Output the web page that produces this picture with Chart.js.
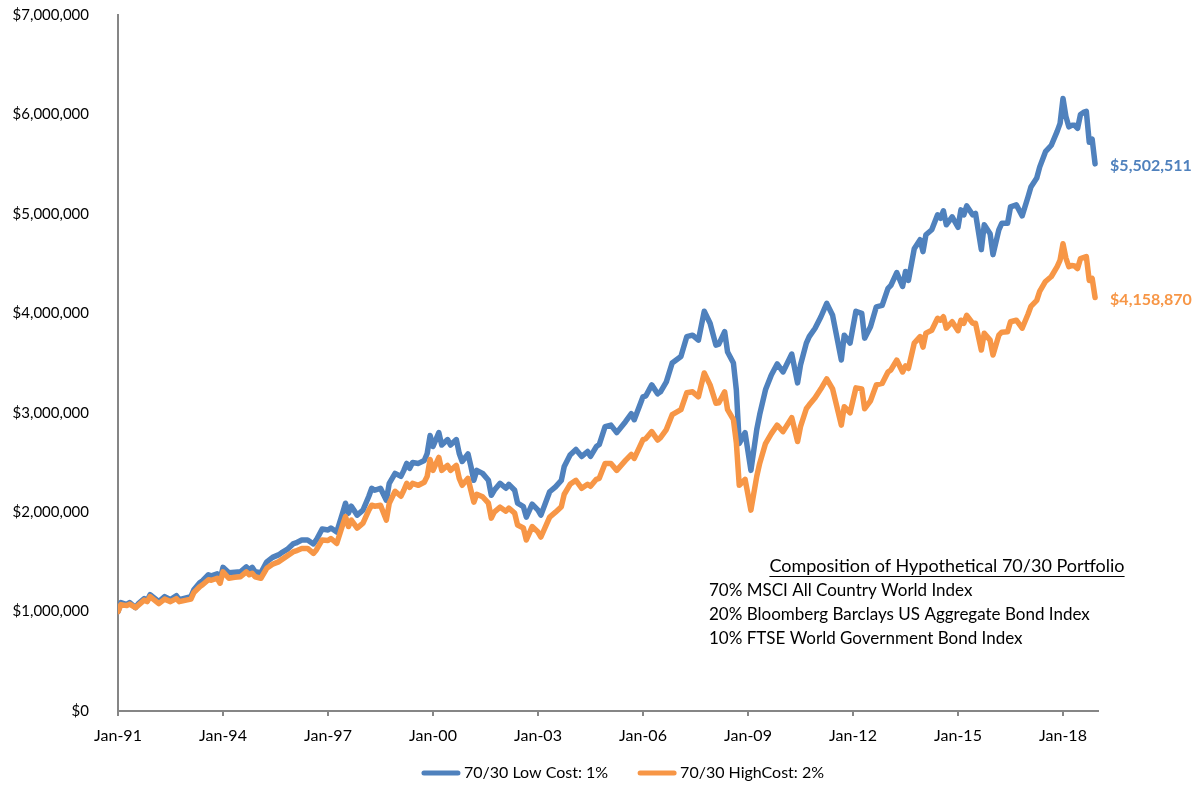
<!DOCTYPE html>
<html>
<head>
<meta charset="utf-8">
<script src="https://cdn.jsdelivr.net/npm/chart.js@4"></script>
<style>
  body { margin: 0; background: #fff; }
</style>
</head>
<body>
<canvas id="growthChart" width="1196" height="789"></canvas>
<script>
// month index since Jan-91 (0 = Jan-91)
const months = [
  0, 1, 3, 4, 6, 7, 9, 10, 11, 14,
  16, 18, 20, 21, 25, 26, 28, 29, 31, 32,
  34, 35, 36, 38, 40, 42, 44, 45, 46, 47,
  49, 51, 53, 55, 56, 58, 60, 61, 63, 65,
  67, 68, 70, 72, 73, 75, 77, 78, 79, 80,
  82, 84, 86, 87, 88, 90, 92, 93, 95, 97,
  98, 99, 100, 101, 103, 105, 106, 107, 108, 110,
  111, 113, 114, 116, 117, 118, 120, 121, 122, 123,
  125, 127, 128, 129, 131, 133, 134, 136, 137, 139,
  140, 142, 144, 145, 148, 150, 152, 153, 155, 157,
  159, 161, 162, 164, 165, 167, 169, 171, 174, 176,
  177, 180, 181, 183, 185, 186, 188, 190, 193, 195,
  197, 199, 201, 203, 205, 206, 208, 209, 211, 212,
  213, 215, 217, 219, 220, 222, 224, 226, 228, 231,
  233, 234, 236, 237, 239, 241, 243, 245, 248, 249,
  251, 253, 255, 256, 258, 260, 262, 264, 265, 267,
  269, 270, 271, 273, 275, 276, 277, 279, 281, 282,
  283, 284, 286, 288, 289, 290, 291, 293, 294, 296,
  297, 299, 300, 302, 303, 305, 306, 308, 310, 312,
  313, 315, 316, 318, 320, 322, 323, 324, 325, 326,
  327, 328, 329, 330, 331, 332, 333, 334, 335
];

// portfolio value, $ millions
const lowCost = [
  1.00, 1.09, 1.07, 1.09, 1.04, 1.08, 1.13, 1.11, 1.17, 1.10,
  1.15, 1.12, 1.16, 1.12, 1.15, 1.22, 1.29, 1.31, 1.37, 1.36,
  1.38, 1.32, 1.445, 1.39, 1.395, 1.40, 1.45, 1.42, 1.445, 1.40,
  1.39, 1.50, 1.545, 1.57, 1.59, 1.625, 1.68, 1.69, 1.72, 1.72,
  1.68, 1.72, 1.83, 1.82, 1.84, 1.80, 1.99, 2.09, 1.99, 2.06,
  1.97, 2.02, 2.16, 2.24, 2.22, 2.24, 2.12, 2.29, 2.39, 2.36,
  2.42, 2.49, 2.44, 2.50, 2.49, 2.52, 2.59, 2.77, 2.66, 2.80,
  2.675, 2.73, 2.675, 2.73, 2.59, 2.51, 2.585, 2.46, 2.32, 2.42,
  2.39, 2.32, 2.17, 2.22, 2.29, 2.24, 2.28, 2.22, 2.09, 2.055,
  1.95, 2.08, 2.02, 1.97, 2.205, 2.255, 2.32, 2.46, 2.575, 2.63,
  2.56, 2.61, 2.56, 2.66, 2.68, 2.86, 2.875, 2.80, 2.91, 2.99,
  2.93, 3.16, 3.17, 3.28, 3.19, 3.21, 3.31, 3.50, 3.565, 3.765,
  3.78, 3.73, 4.02, 3.90, 3.68, 3.69, 3.815, 3.61, 3.50, 3.23,
  2.69, 2.80, 2.42, 2.83, 2.98, 3.23, 3.38, 3.49, 3.41, 3.59,
  3.30, 3.48, 3.70, 3.765, 3.85, 3.965, 4.10, 3.98, 3.53, 3.78,
  3.70, 4.02, 4.00, 3.75, 3.865, 4.065, 4.08, 4.25, 4.28, 4.41,
  4.27, 4.42, 4.33, 4.65, 4.74, 4.62, 4.79, 4.84, 4.99, 4.955,
  5.03, 4.89, 4.97, 4.865, 5.04, 4.99, 5.08, 4.99, 5.005, 4.64,
  4.89, 4.80, 4.59, 4.84, 4.905, 4.905, 5.07, 5.09, 4.98, 5.17,
  5.27, 5.36, 5.47, 5.625, 5.69, 5.83, 5.91, 6.16, 5.98, 5.875,
  5.89, 5.89, 5.86, 6.00, 6.02, 6.03, 5.72, 5.75, 5.502511
];

const highCost = [
  1.00, 1.07, 1.06, 1.075, 1.04, 1.065, 1.115, 1.10, 1.15, 1.08,
  1.125, 1.10, 1.13, 1.10, 1.125, 1.19, 1.25, 1.27, 1.32, 1.315,
  1.335, 1.285, 1.40, 1.335, 1.345, 1.35, 1.40, 1.37, 1.385, 1.35,
  1.335, 1.435, 1.475, 1.50, 1.52, 1.56, 1.60, 1.61, 1.635, 1.635,
  1.585, 1.62, 1.72, 1.715, 1.735, 1.685, 1.87, 1.955, 1.855, 1.92,
  1.84, 1.89, 2.02, 2.07, 2.06, 2.07, 1.92, 2.09, 2.21, 2.16,
  2.22, 2.29, 2.25, 2.29, 2.27, 2.30, 2.36, 2.53, 2.42, 2.55,
  2.42, 2.47, 2.42, 2.47, 2.34, 2.27, 2.34, 2.22, 2.10, 2.18,
  2.155, 2.09, 1.94, 2.00, 2.05, 2.01, 2.04, 1.99, 1.87, 1.84,
  1.72, 1.855, 1.80, 1.75, 1.95, 2.00, 2.055, 2.18, 2.28, 2.32,
  2.24, 2.28, 2.26, 2.33, 2.34, 2.49, 2.49, 2.42, 2.52, 2.58,
  2.54, 2.73, 2.74, 2.81, 2.725, 2.75, 2.83, 2.98, 3.03, 3.20,
  3.21, 3.16, 3.40, 3.28, 3.095, 3.10, 3.21, 3.03, 2.93, 2.70,
  2.27, 2.33, 2.02, 2.36, 2.49, 2.69, 2.79, 2.875, 2.81, 2.95,
  2.71, 2.86, 3.04, 3.08, 3.15, 3.24, 3.34, 3.24, 2.875, 3.06,
  3.00, 3.25, 3.24, 3.04, 3.12, 3.28, 3.295, 3.41, 3.43, 3.53,
  3.41, 3.47, 3.445, 3.70, 3.765, 3.66, 3.80, 3.83, 3.95, 3.93,
  3.965, 3.85, 3.915, 3.825, 3.93, 3.90, 3.98, 3.90, 3.90, 3.63,
  3.80, 3.73, 3.58, 3.78, 3.81, 3.815, 3.915, 3.93, 3.85, 3.99,
  4.07, 4.13, 4.22, 4.32, 4.37, 4.47, 4.535, 4.70, 4.555, 4.47,
  4.48, 4.475, 4.45, 4.55, 4.56, 4.57, 4.33, 4.35, 4.15887
];

const seriesNames = ['70/30 Low Cost: 1%', '70/30 HighCost: 2%'];
const tickMonths = [0, 36, 72, 108, 144, 180, 216, 252, 288, 324];
const tickLabels = ['Jan-91', 'Jan-94', 'Jan-97', 'Jan-00', 'Jan-03', 'Jan-06', 'Jan-09', 'Jan-12', 'Jan-15', 'Jan-18'];
const boxTitle = 'Composition of Hypothetical 70/30 Portfolio';
const boxLines = [
  '70% MSCI All Country World Index',
  '20% Bloomberg Barclays US Aggregate Bond Index',
  '10% FTSE World Government Bond Index'
];

const BLUE = '#4F81BD';
const ORANGE = '#F79646';
const FONT = 'Lato, "Open Sans", sans-serif';

function formatDollars(v) {
  return '$' + Math.round(v).toLocaleString('en-US');
}

function toPoints(values) {
  return months.map((m, i) => ({ x: m, y: values[i] * 1000000 }));
}

// end-of-line values, composition note and legend
const overlayPlugin = {
  id: 'overlay',
  afterDraw(chart) {
    const ctx = chart.ctx;
    ctx.save();

    chart.data.datasets.forEach((ds, i) => {
      const meta = chart.getDatasetMeta(i);
      const last = meta.data[meta.data.length - 1];
      const value = ds.data[ds.data.length - 1].y;
      ctx.font = 'bold 16px ' + FONT;
      ctx.fillStyle = ds.borderColor;
      ctx.textAlign = 'left';
      ctx.textBaseline = 'middle';
      ctx.fillText(formatDollars(value), last.x + 15, last.y + 2);
    });

    ctx.fillStyle = '#000';
    ctx.font = '18px ' + FONT;
    ctx.textAlign = 'center';
    ctx.textBaseline = 'middle';
    const titleX = 947, titleY = 566;
    ctx.fillText(boxTitle, titleX, titleY);
    const tw = ctx.measureText(boxTitle).width;
    ctx.strokeStyle = '#000';
    ctx.lineWidth = 1;
    ctx.beginPath();
    ctx.moveTo(titleX - tw / 2, titleY + 10.5);
    ctx.lineTo(titleX + tw / 2, titleY + 10.5);
    ctx.stroke();

    ctx.font = '17px ' + FONT;
    ctx.textAlign = 'left';
    boxLines.forEach((line, i) => {
      ctx.fillText(line, 709, 591 + i * 24);
    });

    // legend
    ctx.font = '16px ' + FONT;
    const lineLen = 38, gap = 4, itemGap = 30;
    const widths = chart.data.datasets.map(ds => lineLen + gap + ctx.measureText(ds.label).width);
    const total = widths.reduce((a, b) => a + b, 0) + itemGap * (widths.length - 1);
    let x = 623 - total / 2;
    const y = 773;
    chart.data.datasets.forEach((ds, i) => {
      ctx.strokeStyle = ds.borderColor;
      ctx.lineWidth = 5;
      ctx.lineCap = 'round';
      ctx.beginPath();
      ctx.moveTo(x + 2, y);
      ctx.lineTo(x + lineLen - 2, y);
      ctx.stroke();
      ctx.fillStyle = '#000';
      ctx.fillText(ds.label, x + lineLen + gap, y);
      x += widths[i] + itemGap;
    });

    ctx.restore();
  }
};

Chart.defaults.font.family = FONT;

new Chart(document.getElementById('growthChart').getContext('2d'), {
  type: 'line',
  data: {
    datasets: [
      {
        label: seriesNames[0],
        data: toPoints(lowCost),
        borderColor: BLUE,
        backgroundColor: BLUE,
        order: 1
      },
      {
        label: seriesNames[1],
        data: toPoints(highCost),
        borderColor: ORANGE,
        backgroundColor: ORANGE,
        order: 0
      }
    ]
  },
  options: {
    responsive: false,
    animation: false,
    devicePixelRatio: 1,
    layout: { padding: { top: 15, right: 98, bottom: 38, left: 0 } },
    elements: {
      point: { radius: 0 },
      line: { borderWidth: 5.5, tension: 0, borderJoinStyle: 'round', borderCapStyle: 'round' }
    },
    plugins: {
      legend: { display: false },
      tooltip: { enabled: false }
    },
    scales: {
      x: {
        type: 'linear',
        min: 0,
        max: 336,
        afterBuildTicks: scale => { scale.ticks = tickMonths.map(v => ({ value: v })); },
        afterFit: scale => { scale.height = 40; },
        ticks: {
          callback: v => tickLabels[tickMonths.indexOf(v)],
          autoSkip: false,
          maxRotation: 0,
          padding: 10,
          color: '#000',
          font: { size: 16 }
        },
        grid: { drawOnChartArea: false, drawTicks: true, tickLength: 5, color: '#868686', lineWidth: 2 },
        border: { display: true, color: '#868686', width: 2 }
      },
      y: {
        min: 0,
        max: 7000000,
        afterFit: scale => {
          scale.width = 118;
          scale.paddingTop = 0;
          scale.paddingBottom = 0;
        },
        ticks: {
          stepSize: 1000000,
          callback: v => formatDollars(v),
          padding: 21,
          color: '#000',
          font: { size: 15 }
        },
        grid: { display: false },
        border: { display: true, color: '#868686', width: 2 }
      }
    }
  },
  plugins: [overlayPlugin]
});
</script>
</body>
</html>
